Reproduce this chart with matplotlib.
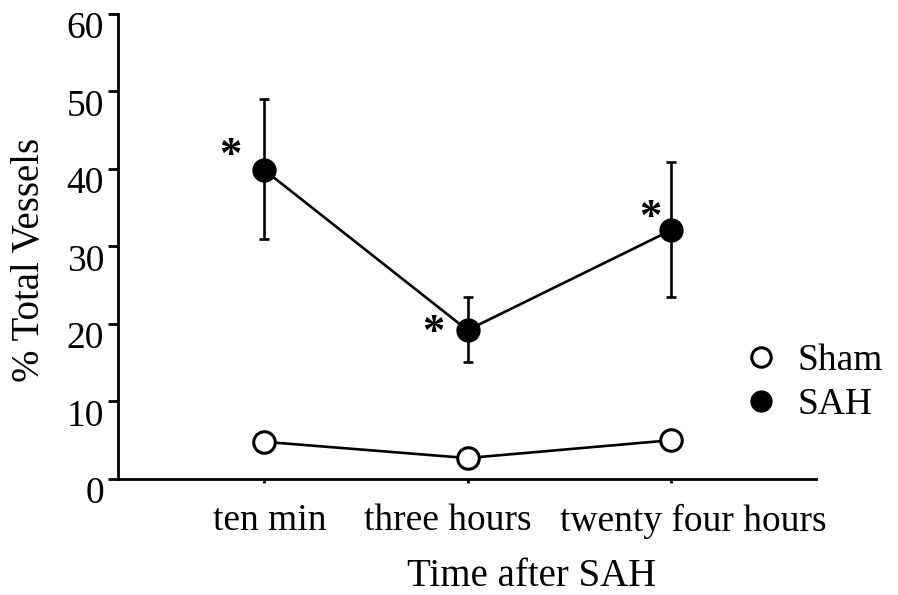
import matplotlib
matplotlib.use("Agg")
import matplotlib.pyplot as plt
from matplotlib.lines import Line2D
from matplotlib.transforms import ScaledTranslation

plt.rcParams['font.family'] = ['Liberation Serif', 'DejaVu Serif']

categories = ["ten min", "three hours", "twenty four hours"]
sham = [4.8, 2.7, 5.0]
sah = [39.9, 19.2, 32.1]
sah_err_low = [8.9, 4.1, 8.6]
sah_err_high = [9.1, 4.3, 8.8]
significant = [True, True, True]
yticks = [0, 10, 20, 30, 40, 50, 60]

x = [1, 2, 3]

fig = plt.figure(figsize=(8.98, 5.95), dpi=100)
ax = fig.add_axes([0.1314, 0.195, 0.7773, 0.7815])

ax.errorbar(x, sah, yerr=[sah_err_low, sah_err_high], fmt='none', ecolor='black',
            elinewidth=1.9, capsize=3.6, capthick=1.9, zorder=2)
ax.plot(x, sah, color='black', lw=1.9, marker='o', markersize=16.5,
        markerfacecolor='black', markeredgecolor='black', zorder=3)
ax.plot(x, sham, color='black', lw=1.9, marker='o', markersize=15.5,
        markerfacecolor='white', markeredgecolor='black', markeredgewidth=2.2, zorder=3)

star_offsets = [(-24, 10), (-25, -2), (-15, 9)]
for xi, yi, sig, off in zip(x, sah, significant, star_offsets):
    if sig:
        ax.annotate('*', (xi, yi), xytext=off, textcoords='offset points',
                    ha='center', va='center', fontsize=32, fontweight='bold')

ax.set_xlim(0.283, 3.712)
ax.set_ylim(0, 60)
ax.set_yticks(yticks)
ax.set_yticklabels([str(v) for v in yticks])
ax.set_xticks(x)
ax.set_xticklabels(categories)

for s in ['top', 'right']:
    ax.spines[s].set_visible(False)
for s in ['left', 'bottom']:
    ax.spines[s].set_linewidth(2.0)

ax.tick_params(axis='y', direction='out', length=7, width=2.0, labelsize=27, pad=3)
ax.tick_params(axis='x', direction='out', length=3, width=2.0, labelsize=27, pad=15)

# label offsets (pixels)
for lab in ax.get_yticklabels():
    lab.set_transform(lab.get_transform() + ScaledTranslation(0, -11/100, fig.dpi_scale_trans))
xoffs = [6, -20, 22]
for lab, dx in zip(ax.get_xticklabels(), xoffs):
    lab.set_transform(lab.get_transform() + ScaledTranslation(dx/100, 0, fig.dpi_scale_trans))

ax.set_xlabel("Time after SAH", fontsize=28)
ax.xaxis.set_label_coords(0.592, -0.21)
ax.xaxis.label.set_va('center')
ax.set_ylabel("% Total Vessels", fontsize=28)
ax.yaxis.set_label_coords(-0.1275, 0.471)
ax.yaxis.label.set_va('center')

handles = [
    Line2D([], [], linestyle='none', marker='o', markersize=14, markerfacecolor='white',
           markeredgecolor='black', markeredgewidth=2.2),
    Line2D([], [], linestyle='none', marker='o', markersize=15, markerfacecolor='black',
           markeredgecolor='black'),
]
fig.legend(handles, ["Sham", "SAH"], loc='center left', bbox_to_anchor=(0.827, 0.356),
           frameon=False, fontsize=27, handlelength=1.0, handletextpad=0.45,
           borderpad=0, borderaxespad=0, labelspacing=0.25)

fig.savefig("out.png", dpi=100)
